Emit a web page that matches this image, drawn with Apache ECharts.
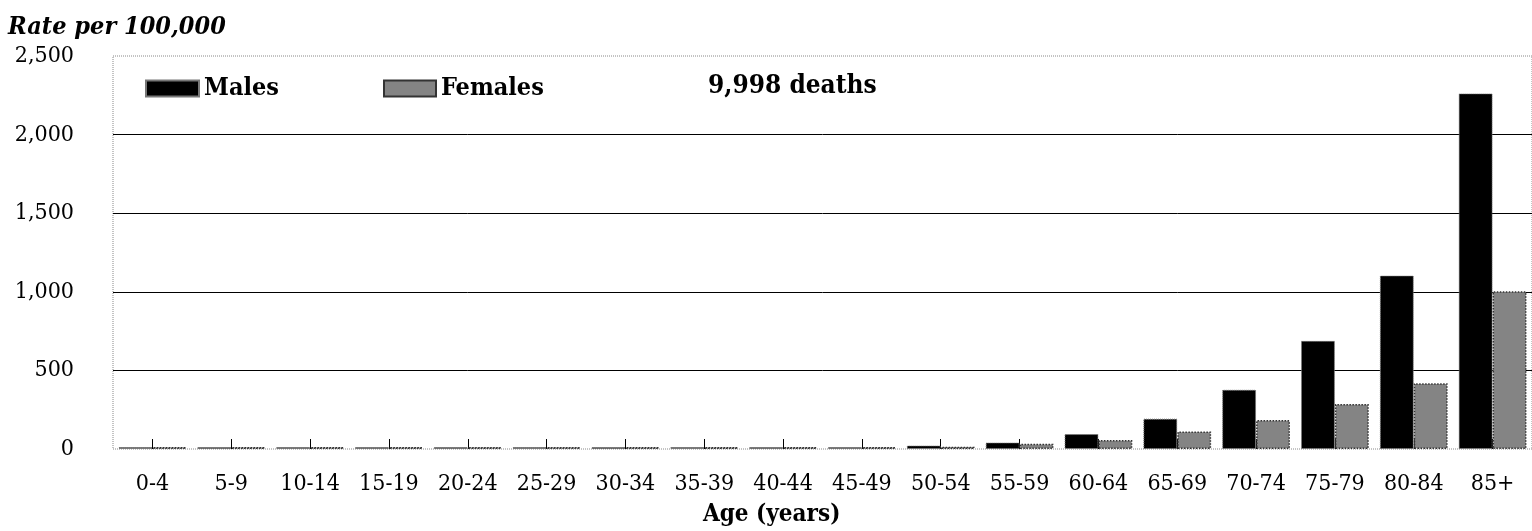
<!DOCTYPE html>
<html>
<head>
<meta charset="utf-8">
<script src="https://cdn.jsdelivr.net/npm/echarts@6/dist/echarts.min.js"></script>
<style>
html,body{margin:0;padding:0;background:#fff;}
#chart{width:1532px;height:531px;}
</style>
</head>
<body>
<div id="chart"></div>
<script>
const categories = ['0-4','5-9','10-14','15-19','20-24','25-29','30-34','35-39','40-44','45-49','50-54','55-59','60-64','65-69','70-74','75-79','80-84','85+'];
const males   = [5, 2, 2, 3, 3, 3, 3, 4, 6, 9, 22, 41, 95, 193, 377, 688, 1103, 2262];
const females = [4, 1, 1, 2, 2, 2, 2, 3, 4, 6, 15, 34, 57, 112, 184, 286, 419, 1003];
const yTicks = [0, 500, 1000, 1500, 2000, 2500];
const yTitle = 'Rate per 100,000';
const xTitle = 'Age (years)';
const noteText = '9,998 deaths';

const REG = '"DejaVu Serif Condensed", "Liberation Serif", serif';
const BOLD = '"DejaVu Serif Condensed", "DejaVu Serif", serif';

const chart = echarts.init(document.getElementById('chart'));
chart.setOption({
  animation: false,
  backgroundColor: '#fff',
  title: [
    { text: yTitle, left: 8, top: 15, padding: 0,
      textStyle: { fontFamily: BOLD, fontSize: 25, fontWeight: 'bold', fontStyle: 'italic', color: '#000' } },
    { text: noteText, left: 708, top: 73, padding: 0,
      textStyle: { fontFamily: BOLD, fontSize: 26, fontWeight: 'bold', color: '#000' } },
    { text: xTitle, left: 703, top: 503, padding: 0,
      textStyle: { fontFamily: BOLD, fontSize: 24, fontWeight: 'bold', color: '#000' } }
  ],
  legend: [
    { data: ['Males'], left: 145, top: 76, padding: 0, icon: 'rect', itemWidth: 53, itemHeight: 16, itemGap: 0,
      textStyle: { fontFamily: BOLD, fontSize: 25, fontWeight: 'bold', color: '#000', padding: [0,0,0,0] } },
    { data: ['Females'], left: 383, top: 76, padding: 0, icon: 'rect', itemWidth: 52, itemHeight: 16, itemGap: 0,
      textStyle: { fontFamily: BOLD, fontSize: 25, fontWeight: 'bold', color: '#000', padding: [0,0,0,0] } }
  ],
  grid: {
    left: 113, top: 56, width: 1425, height: 393,
    show: true, borderColor: '#888', borderWidth: 1, borderType: 'dotted', backgroundColor: 'transparent'
  },
  xAxis: {
    type: 'category',
    data: categories,
    boundaryGap: true,
    axisLine: { show: false },
    axisTick: { show: true, inside: true, length: 10, alignWithLabel: true, lineStyle: { color: '#000', width: 1 } },
    axisLabel: { fontFamily: REG, fontSize: 23, color: '#000', margin: 24, interval: 0 },
    splitLine: { show: false }
  },
  yAxis: {
    type: 'value',
    min: yTicks[0], max: yTicks[yTicks.length - 1], interval: yTicks[1] - yTicks[0],
    axisLine: { show: false },
    axisTick: { show: false },
    axisLabel: { fontFamily: REG, fontSize: 23, color: '#000', margin: 39,
      formatter: v => v.toLocaleString('en-US') },
    splitLine: { show: true, lineStyle: { color: ['transparent', '#000', '#000', '#000', '#000', 'transparent'], width: 1 } }
  },
  series: [
    { name: 'Males', type: 'bar', data: males, barGap: '0%', barCategoryGap: '14%', barMinHeight: 2,
      itemStyle: { color: '#000', borderColor: '#777', borderWidth: 1, borderType: 'dotted' } },
    { name: 'Females', type: 'bar', data: females, barGap: '0%', barCategoryGap: '14%', barMinHeight: 2,
      itemStyle: { color: '#848484', borderColor: '#333', borderWidth: 1.5, borderType: 'dotted' } }
  ]
});
</script>
</body>
</html>
